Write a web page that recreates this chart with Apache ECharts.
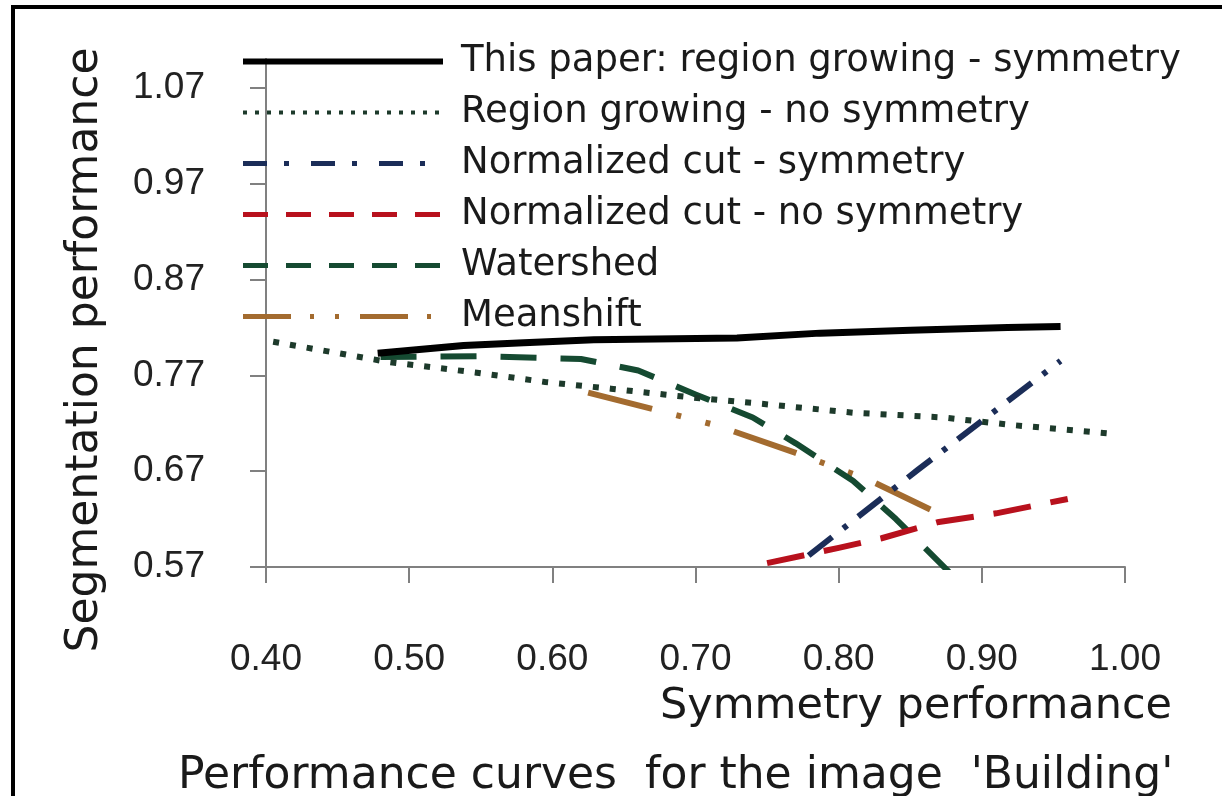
<!DOCTYPE html>
<html>
<head>
<meta charset="utf-8">
<script src="https://cdn.jsdelivr.net/npm/echarts@6/dist/echarts.min.js"></script>
<style>
  html, body { margin: 0; padding: 0; background: #ffffff; }
  #chart { width: 1222px; height: 796px; }
</style>
</head>
<body>
<div id="chart"></div>
<script>
// ---- data ----
const seriesNames = [
  'This paper: region growing - symmetry',
  'Region growing - no symmetry',
  'Normalized cut - symmetry',
  'Normalized cut - no symmetry',
  'Watershed',
  'Meanshift'
];
const thisPaperX = [0.478, 0.538, 0.580, 0.629, 0.729, 0.787, 0.850, 0.918, 0.955];
const thisPaperY = [0.793, 0.801, 0.804, 0.807, 0.809, 0.814, 0.817, 0.820, 0.821];
const regionX = [0.405, 0.485, 0.546, 0.595, 0.641, 0.678, 0.703, 0.741, 0.810, 0.873, 0.922, 0.992];
const regionY = [0.805, 0.784, 0.773, 0.763, 0.756, 0.750, 0.746, 0.741, 0.731, 0.726, 0.718, 0.709];
const ncutSymX = [0.779, 0.855, 0.919, 0.955];
const ncutSymY = [0.582, 0.671, 0.744, 0.785];
const ncutNoX = [0.750, 0.800, 0.830, 0.870, 0.910, 0.960];
const ncutNoY = [0.574, 0.590, 0.600, 0.617, 0.626, 0.641];
const watershedX = [0.480, 0.550, 0.620, 0.660, 0.700, 0.740, 0.770, 0.810, 0.840, 0.877];
const watershedY = [0.789, 0.790, 0.787, 0.775, 0.750, 0.726, 0.699, 0.660, 0.620, 0.565];
const meanshiftX = [0.625, 0.714, 0.770, 0.821, 0.864];
const meanshiftY = [0.752, 0.718, 0.689, 0.661, 0.630];
const xTicks = [0.40, 0.50, 0.60, 0.70, 0.80, 0.90, 1.00];
const yTicks = [0.57, 0.67, 0.77, 0.87, 0.97, 1.07];
const titleText = "Performance curves  for the image  'Building'";
const xName = 'Symmetry performance';
const yName = 'Segmentation performance';

function pairs(xs, ys) { return xs.map((x, i) => [x, ys[i]]); }

const colors = ['#000000', '#1d3a2b', '#1b2d58', '#b8111d', '#154a31', '#a36b2f'];
const plotStyles = [
  { width: 7, type: 'solid' },
  { width: 6, type: [6, 11] },
  { width: 6, type: [30, 14, 5, 14] },
  { width: 6, type: [38, 20] },
  { width: 6, type: [36, 24] },
  { width: 6, type: [66, 25, 5, 25, 5, 25] }
];
const legendStyles = [
  { width: 6, type: 'solid' },
  { width: 4, type: [4, 8] },
  { width: 5, type: [24, 17, 5, 22] },
  { width: 5, type: [25, 18] },
  { width: 5, type: [25, 18] },
  { width: 5, type: [48, 19, 4, 21, 4, 21] }
];
const dataSets = [
  pairs(thisPaperX, thisPaperY),
  pairs(regionX, regionY),
  pairs(ncutSymX, ncutSymY),
  pairs(ncutNoX, ncutNoY),
  pairs(watershedX, watershedY),
  pairs(meanshiftX, meanshiftY)
];

const chart = echarts.init(document.getElementById('chart'), null, { renderer: 'canvas' });
const axisGrey = '#808080';
const textCol = '#1a1a1a';

chart.setOption({
  backgroundColor: '#ffffff',
  animation: false,
  title: {
    text: titleText,
    left: 178,
    top: 755,
    padding: 0,
    textStyle: { fontFamily: 'DejaVu Sans', fontSize: 44, fontWeight: 'normal', color: textCol }
  },
  legend: {
    orient: 'vertical',
    left: 240,
    top: 36,
    padding: 0,
    itemWidth: 200,
    itemHeight: 14,
    itemGap: 0,
    selectedMode: false,
    itemStyle: { opacity: 0 },
    textStyle: { fontFamily: 'DejaVu Sans', fontSize: 37, lineHeight: 51, color: textCol, padding: [0, 0, 0, 13] },
    data: seriesNames.map((n, i) => ({ name: n, lineStyle: Object.assign({ color: colors[i], cap: 'butt' }, legendStyles[i]) }))
  },
  grid: { left: 266, right: 97, top: 59, bottom: 229, containLabel: false },
  xAxis: {
    type: 'value',
    min: 0.4,
    max: 1.0,
    name: xName,
    nameLocation: 'end',
    nameGap: 47,
    nameTextStyle: { fontFamily: 'DejaVu Sans', fontSize: 43, color: textCol, align: 'right', verticalAlign: 'top', padding: [118, 0, 0, 0] },
    axisLine: { show: true, onZero: false, lineStyle: { color: axisGrey, width: 2 } },
    axisTick: { show: true, inside: false, length: 16, customValues: xTicks, lineStyle: { color: axisGrey, width: 2 } },
    axisLabel: { customValues: xTicks, margin: 74, fontFamily: 'Liberation Sans', fontSize: 37, color: '#222222', formatter: v => v.toFixed(2) },
    splitLine: { show: false }
  },
  yAxis: {
    type: 'value',
    min: 0.57,
    max: 1.1,
    name: yName,
    nameLocation: 'middle',
    nameGap: 158,
    nameTextStyle: { fontFamily: 'DejaVu Sans', fontSize: 44, color: textCol, padding: [0, 74, 0, 0] },
    axisLine: { show: true, onZero: false, lineStyle: { color: axisGrey, width: 2 } },
    axisTick: { show: true, inside: false, length: 16, customValues: yTicks, lineStyle: { color: axisGrey, width: 2 } },
    axisLabel: { customValues: yTicks, margin: 61, fontFamily: 'Liberation Sans', fontSize: 37, color: '#222222', formatter: v => v.toFixed(2) },
    splitLine: { show: false }
  },
  graphic: [
    { type: 'line', shape: { x1: 13, y1: 7, x2: 13, y2: 796 }, style: { stroke: '#000', lineWidth: 4 }, z: 100 },
    { type: 'line', shape: { x1: 11, y1: 7, x2: 1222, y2: 7 }, style: { stroke: '#000', lineWidth: 4 }, z: 100 }
  ],
  series: seriesNames.map((n, i) => ({
    name: n,
    type: 'line',
    data: dataSets[i],
    symbol: 'none',
    smooth: false,
    clip: true,
    color: colors[i],
    lineStyle: Object.assign({ color: colors[i], cap: 'butt', join: 'round' }, plotStyles[i]),
    z: 10 - i
  }))
});
</script>
</body>
</html>
